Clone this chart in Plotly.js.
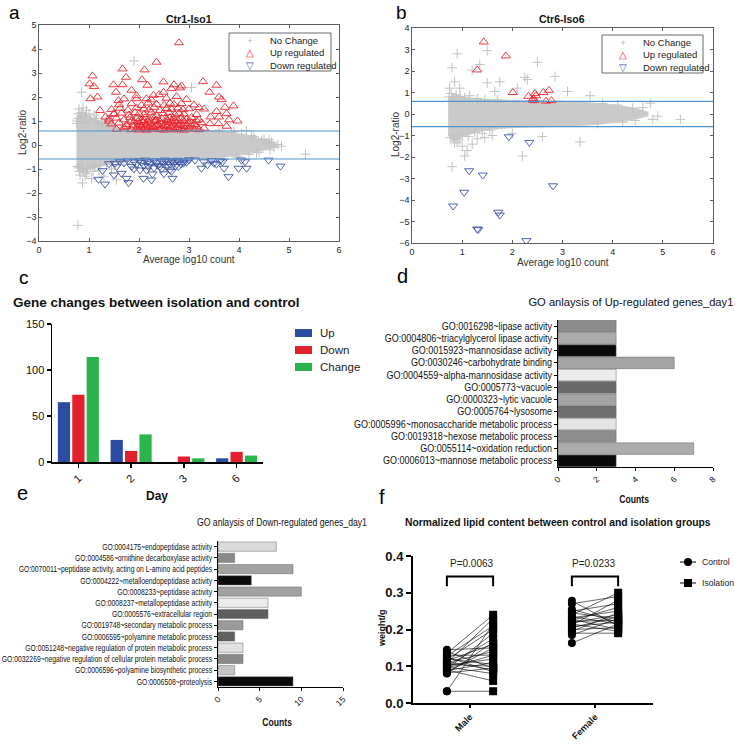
<!DOCTYPE html>
<html><head><meta charset="utf-8">
<script src="https://cdn.plot.ly/plotly-3.0.1.min.js"></script>
<style>html,body{margin:0;padding:0;background:#fff}#chart{width:735px;height:744px}</style>
</head><body><div id="chart"></div>
<script>
// ---------------- DATA ----------------
// Panel a: Ctr1-Iso1 MA plot
const cloudAX  = [0.75,0.80,0.90,1.00,1.20,1.40,1.60,1.80,2.00,2.50,3.00,3.50,3.80,4.00,4.20,4.40,4.60,4.75];
const cloudAUp = [0.90,1.25,1.30,1.20,1.00,0.85,0.72,0.66,0.64,0.62,0.62,0.58,0.52,0.45,0.36,0.27,0.18,0.06];
const cloudALo = [-0.80,-1.05,-1.10,-1.00,-0.90,-0.78,-0.70,-0.64,-0.62,-0.60,-0.58,-0.55,-0.48,-0.42,-0.34,-0.26,-0.16,-0.06];
const grayAX = [0.78,1.90,3.05,0.85,5.33,4.85,4.78,4.70,4.65,4.55,4.15,4.30,4.40,0.87,1.05,0.82,0.90,1.20,1.30,1.55,0.80,0.85,0.95,1.00,1.10,1.15,1.25,0.78,1.35,1.40,0.80,0.95,1.10,3.90,4.00,3.70,3.20,4.20,4.45,0.76,1.45,0.83,0.92,1.08,0.88,
  0.76,0.79,0.84,0.88,0.93,0.98,1.03,1.13,1.18,1.28,1.33,1.48,1.62,1.75,3.60,3.85,4.05,4.25,4.50,4.60,0.77,0.81,0.86,0.97,1.02,1.12,1.22,1.35,1.60,1.70,3.40,3.95,4.35,4.62];
const grayAY = [-3.35,3.50,2.40,2.20,-0.38,-0.05,0.02,-0.10,0.12,0.05,0.60,0.35,-0.30,-1.58,-1.40,-1.25,-1.15,-1.05,-1.30,-1.45,1.50,1.35,1.45,1.30,1.25,1.10,0.95,1.10,1.05,0.85,-0.95,-1.20,-0.85,0.55,-0.50,-0.60,0.65,-0.40,0.20,0.90,-1.00,1.20,-1.30,-1.10,1.55,
  1.00,1.30,1.10,0.95,1.20,0.90,1.05,1.00,0.85,0.90,0.78,0.75,0.70,0.68,0.62,0.52,0.45,0.40,0.25,0.22,-0.90,-1.10,-0.85,-1.00,-0.95,-0.90,-0.85,-0.80,-0.72,-0.68,-0.62,-0.50,-0.32,-0.20];
const upAX = [2.80,2.35,1.67,2.11,1.07,1.74,3.28,1.01,2.06,1.10,1.49,1.67,2.49,2.17,2.70,2.85,3.55,1.17,1.03,1.54,2.49,2.65,2.82,3.60,3.41,1.59,1.95,2.15,2.29,3.89,3.72,1.22,1.33,1.50,3.43,3.60,3.75,3.97,3.42,3.59,3.75,3.65,3.55,3.80,3.30,1.40,
  1.55,1.70,1.85,1.95,2.00,2.05,2.10,2.15,2.20,2.25,2.30,2.40,2.45,2.50,2.55,2.60,2.65,2.70,2.75,2.80,2.85,2.90,3.00,3.10,3.20,3.30,
  1.75,1.88,1.98,2.03,2.13,2.27,2.35,2.48,2.57,2.63,2.78,2.88,2.93,3.05,3.15,
  1.45,1.60,1.75,1.90,2.00,2.08,2.15,2.22,2.30,2.38,2.45,2.52,2.60,2.68,2.75,2.82,2.90,2.98,3.10,3.25,
  1.85,1.98,2.10,2.18,2.32,2.42,2.57,2.65,2.72,2.88,3.02,3.15,
  1.40,1.55,1.70,1.82,1.95,2.05,2.12,2.20,2.28,2.35,2.45,2.55,2.62,2.70,2.78,2.85,2.95,3.05,3.20,
  1.50,1.65,1.80,1.92,2.00,2.10,2.25,2.35,2.48,2.60,2.72,2.80,2.90,3.15,
  1.45,1.62,1.78,1.95,2.10,2.20,2.30,2.42,2.55,2.65,2.78,2.88,3.00,3.20,
  1.60,1.85,2.05,2.18,2.35,2.50,2.62,2.70,2.85,3.10,
  1.70,1.95,2.25,2.40,2.55,2.75,2.95,1.85];
const upAY = [4.26,3.45,3.17,3.13,2.88,2.82,2.64,2.55,2.72,2.44,2.51,2.51,2.63,2.49,2.51,2.46,2.49,2.00,1.93,2.20,2.20,2.35,2.38,2.00,2.20,1.85,1.93,1.93,2.07,1.63,1.57,1.44,1.17,1.31,1.17,1.17,1.31,1.00,0.89,0.89,0.78,1.90,1.40,1.05,1.50,1.00,
  0.66,0.72,0.64,0.70,0.63,0.74,0.67,0.62,0.71,0.65,0.73,0.64,0.69,0.62,0.75,0.66,0.70,0.63,0.72,0.65,0.68,0.62,0.71,0.66,0.64,0.70,
  0.78,0.80,0.76,0.82,0.79,0.77,0.81,0.78,0.80,0.76,0.82,0.79,0.77,0.80,0.78,
  0.88,0.92,0.85,0.95,0.87,0.93,0.84,0.90,0.96,0.86,0.91,0.83,0.94,0.88,0.92,0.85,0.97,0.89,0.86,0.93,
  1.00,0.98,1.02,0.99,1.01,0.97,1.03,1.00,0.98,1.02,0.99,1.01,
  1.08,1.12,1.05,1.15,1.10,1.03,1.13,1.07,1.16,1.04,1.11,1.06,1.14,1.09,1.02,1.12,1.08,1.15,1.05,
  1.28,1.33,1.25,1.35,1.30,1.27,1.36,1.24,1.31,1.34,1.26,1.32,1.29,1.27,
  1.48,1.53,1.45,1.55,1.50,1.46,1.57,1.44,1.52,1.49,1.54,1.47,1.51,1.56,
  1.68,1.72,1.65,1.75,1.70,1.66,1.74,1.69,1.73,1.67,
  1.92,2.05,1.88,2.10,1.95,2.02,1.90,2.28];
const downAX = [1.27,1.19,1.32,1.52,1.65,1.75,1.79,1.85,2.02,2.09,2.27,2.25,2.19,2.42,2.67,2.62,2.79,2.89,3.12,3.25,3.37,3.50,3.67,3.70,3.79,3.99,4.05,4.15,4.12,4.59,4.83,
  1.62,1.70,1.78,1.90,1.95,2.00,2.05,2.10,2.12,2.18,2.22,2.30,2.35,2.38,2.45,2.50,2.52,2.55,2.58,2.62,2.66,2.70,2.73,2.76,2.80,2.84,2.90,2.95,3.00,2.30,2.45,1.55,1.40,1.90,2.15,3.45,3.55,3.62,3.30,2.65,2.50,1.50];
const downAY = [-1.07,-1.43,-1.63,-0.76,-1.18,-1.39,-1.57,-0.90,-1.04,-1.39,-1.21,-1.46,-0.90,-0.90,-1.39,-1.04,-0.90,-0.76,-0.63,-0.97,-0.83,-0.76,-0.70,-0.97,-1.32,-0.97,-0.63,-0.97,-0.70,-0.63,-0.88,
  -0.68,-0.75,-0.66,-0.70,-0.80,-0.65,-0.72,-0.85,-0.63,-0.70,-0.78,-0.66,-0.74,-0.85,-0.68,-0.78,-0.63,-0.90,-0.70,-0.80,-0.66,-0.74,-0.88,-0.64,-0.70,-0.80,-0.66,-0.72,-0.62,-0.95,-1.00,-0.90,-0.78,-1.00,-1.05,-0.65,-0.80,-0.66,-0.70,-1.10,-1.20,-1.25];

// Panel b: Ctr6-Iso6 MA plot
const cloudBX  = [0.72,0.80,0.90,1.00,1.20,1.40,1.60,2.00,2.50,3.00,3.50,4.00,4.30,4.50,4.70];
const cloudBUp = [0.70,0.85,0.85,0.80,0.72,0.68,0.65,0.62,0.60,0.58,0.52,0.42,0.32,0.22,0.08];
const cloudBLo = [-0.90,-1.25,-1.20,-1.05,-0.90,-0.78,-0.70,-0.62,-0.60,-0.56,-0.50,-0.40,-0.30,-0.20,-0.08];
const grayBX = [0.90,0.80,1.50,1.35,1.20,0.85,0.95,1.50,1.75,2.25,2.10,2.50,2.85,3.10,3.55,4.75,4.90,5.35,4.80,3.35,2.60,2.20,1.05,0.80,1.10,1.45,1.20,0.75,0.85,0.95,1.00,1.30,1.60,2.00,4.60,4.45,2.30,1.65,
  0.74,0.78,0.83,0.88,0.96,1.05,1.15,1.30,1.45,1.70,3.80,4.10,4.40,0.76,0.82,0.90,1.00,1.12,1.25,1.40,1.55,3.70,4.20];
const grayBY = [2.80,2.15,2.95,2.30,2.05,1.50,1.20,1.45,1.50,1.70,1.20,2.40,1.75,1.05,0.85,0.50,-0.10,-0.25,-0.25,-1.30,-1.05,-1.95,-1.95,-2.45,-1.70,-1.10,-1.40,1.20,-1.35,-1.20,-1.50,-1.15,-1.00,-0.90,0.30,-0.30,1.60,1.05,
  0.80,0.95,0.70,0.90,0.82,0.75,0.85,0.72,0.68,0.66,0.48,0.42,0.28,-1.10,-1.00,-1.30,-0.95,-1.05,-0.85,-0.90,-0.75,-0.45,-0.38];
const upBX = [1.43,1.87,1.30,2.01,2.32,2.45,2.42,2.40,2.47,2.62,2.73,2.67,2.78,2.44];
const upBY = [3.35,2.70,2.05,1.00,0.82,0.95,0.72,0.65,0.85,1.00,1.10,0.60,0.62,0.62];
const downBX = [1.93,2.34,1.14,1.41,2.81,1.04,0.82,1.72,1.75,1.30,1.32,2.28];
const downBY = [-1.06,-1.32,-2.64,-2.84,-3.34,-3.64,-4.28,-4.57,-4.70,-5.35,-5.38,-5.89];
const thresholdLevels = [0.585, -0.585];
const maLegend = ['No Change','Up regulated','Down regulated'];

// Panel c: gene changes per day
const days = ['1','2','3','6'];
const upCounts = [65,24,0,4];
const downCounts = [73,12,6,11];
const changeCounts = [114,30,4,7];
const changeSeries = ['Up','Down','Change'];

// Panel d: GO up-regulated
const upTerms = ['GO:0016298~lipase activity','GO:0004806~triacylglycerol lipase activity','GO:0015923~mannosidase activity','GO:0030246~carbohydrate binding','GO:0004559~alpha-mannosidase activity','GO:0005773~vacuole','GO:0000323~lytic vacuole','GO:0005764~lysosome','GO:0005996~monosaccharide metabolic process','GO:0019318~hexose metabolic process','GO:0055114~oxidation reduction','GO:0006013~mannose metabolic process'];
const upTermCounts = [3,3,3,6,3,3,3,3,3,3,7,3];

// Panel e: GO down-regulated
const downTerms = ['GO:0004175~endopeptidase activity','GO:0004586~ornithine decarboxylase activity','GO:0070011~peptidase activity, acting on L-amino acid peptides','GO:0004222~metalloendopeptidase activity','GO:0008233~peptidase activity','GO:0008237~metallopeptidase activity','GO:0005576~extracellular region','GO:0019748~secondary metabolic process','GO:0006595~polyamine metabolic process','GO:0051248~negative regulation of protein metabolic process','GO:0032269~negative regulation of cellular protein metabolic process','GO:0006596~polyamine biosynthetic process','GO:0006508~proteolysis'];
const downTermCounts = [7,2,9,4,10,6,6,3,2,3,3,2,9];

// Panel f: lipid content (paired control / isolation)
const sexes = ['Male','Female'];
const maleControl   = [0.145,0.140,0.135,0.130,0.128,0.125,0.120,0.118,0.115,0.112,0.110,0.108,0.105,0.102,0.100,0.098,0.095,0.092,0.090,0.088,0.085,0.082,0.080,0.032,0.032];
const maleIsolation = [0.150,0.095,0.240,0.130,0.210,0.085,0.105,0.200,0.160,0.090,0.140,0.230,0.100,0.120,0.175,0.080,0.130,0.190,0.060,0.110,0.150,0.095,0.165,0.032,0.215];
const femaleControl   = [0.278,0.270,0.255,0.250,0.245,0.240,0.235,0.232,0.228,0.225,0.222,0.218,0.215,0.212,0.208,0.205,0.200,0.195,0.190,0.185,0.163];
const femaleIsolation = [0.210,0.290,0.220,0.270,0.230,0.300,0.215,0.250,0.200,0.260,0.225,0.240,0.195,0.280,0.220,0.235,0.205,0.245,0.190,0.230,0.215];
const pValues = ['P=0.0063','P=0.0233'];
const groupNames = ['Control','Isolation'];

// ---------------- STYLE ----------------
const W = 735, H = 744;
const MAT = 'Liberation Sans, Arial, sans-serif';
const dX = (a,b) => [a/W, b/W];
const dY = (top,bottom) => [1-bottom/H, 1-top/H];
const upShades = ['#8c8c8c','#acacac','#0a0a0a','#a4a4a4','#ececec','#6a6a6a','#a4a4a4','#6e6e6e','#e4e4e4','#8e8e8e','#acacac','#0a0a0a'];
const downShades = ['#dadada','#8a8a8a','#a2a2a2','#0a0a0a','#a2a2a2','#ececec','#5e5e5e','#9a9a9a','#606060','#e2e2e2','#8a8a8a','#c4c4c4','#0a0a0a'];
const GRAY='#c2c2c2', RED='#e8262e', BLUE='#3b53a5', TH='#4f93cf';
const barColors = ['#2c4ca2','#e3202b','#2cb44c'];

const traces = [];
const thresholdShapes = [];
function maPanel(xa, ya, cx, cu, cl, gx, gy, ux, uy, dx_, dy_) {
  traces.push({type:'scatter', mode:'lines', xaxis:xa, yaxis:ya, x: cx.concat(cx.slice().reverse()), y: cu.concat(cl.slice().reverse()), fill:'toself', fillcolor:'#cacaca', line:{width:1.5,color:'#cdcdcd'}, hoverinfo:'skip'});
  traces.push({type:'scatter', mode:'markers', xaxis:xa, yaxis:ya, x:gx, y:gy, marker:{symbol:'cross-thin-open', size:7, color:GRAY, line:{color:GRAY, width:1}}});
  thresholdLevels.forEach(t => thresholdShapes.push({type:'line', xref:xa+' domain', x0:0, x1:1, yref:ya, y0:t, y1:t, line:{color:TH, width:1.1}, layer:'above'}));
  traces.push({type:'scatter', mode:'markers', xaxis:xa, yaxis:ya, x:ux, y:uy, marker:{symbol:'triangle-up-open', size:8, color:RED, line:{color:RED, width:0.9}}});
  traces.push({type:'scatter', mode:'markers', xaxis:xa, yaxis:ya, x:dx_, y:dy_, marker:{symbol:'triangle-down-open', size:8, color:BLUE, line:{color:BLUE, width:0.9}}});
}
maPanel('x','y', cloudAX, cloudAUp, cloudALo, grayAX, grayAY, upAX, upAY, downAX, downAY);
maPanel('x2','y2', cloudBX, cloudBUp, cloudBLo, grayBX, grayBY, upBX, upBY, downBX, downBY);

// panel c
[upCounts, downCounts, changeCounts].forEach((vals, i) => {
  traces.push({type:'bar', xaxis:'x3', yaxis:'y3', x:days, y:vals, name:changeSeries[i], marker:{color:barColors[i]}});
});
// panel d
traces.push({type:'bar', orientation:'h', xaxis:'x4', yaxis:'y4', x:upTermCounts, y:upTerms, width:0.94, marker:{color:upShades, line:{color:'#666', width:0.5}}});
// panel e
traces.push({type:'bar', orientation:'h', xaxis:'x5', yaxis:'y5', x:downTermCounts, y:downTerms, width:0.82, marker:{color:downShades, line:{color:'#666', width:0.5}}});

// panel f
const OFF = 0.185;
function pairs(ctrl, iso, center) {
  const xs=[], ys=[];
  ctrl.forEach((c,i) => { xs.push(center-OFF, center+OFF, null); ys.push(c, iso[i], null); });
  traces.push({type:'scatter', mode:'lines', xaxis:'x6', yaxis:'y6', x:xs, y:ys, line:{color:'#000', width:0.6}});
  traces.push({type:'scatter', mode:'markers', xaxis:'x6', yaxis:'y6', x:ctrl.map(()=>center-OFF), y:ctrl, marker:{symbol:'circle', size:8, color:'#000'}});
  traces.push({type:'scatter', mode:'markers', xaxis:'x6', yaxis:'y6', x:iso.map(()=>center+OFF), y:iso, marker:{symbol:'square', size:8, color:'#000'}});
}
pairs(maleControl, maleIsolation, 0);
pairs(femaleControl, femaleIsolation, 1);

// ---------------- LAYOUT ----------------
function matAxis(o) {
  return Object.assign({showline:true, mirror:'ticks', linecolor:'#333', linewidth:0.8, ticks:'inside', ticklen:3, tickwidth:0.8, tickcolor:'#333', showgrid:false, zeroline:false, tickfont:{family:MAT, size:9, color:'#262626'}, fixedrange:true}, o);
}
function gpAxis(o) {
  return Object.assign({showline:true, linecolor:'#000', linewidth:1.2, ticks:'outside', ticklen:4, tickwidth:1.2, tickcolor:'#000', showgrid:false, zeroline:false, fixedrange:true}, o);
}
function A(text, x, y, o) {
  return Object.assign({text:text, x:x/W, y:1-y/H, xref:'paper', yref:'paper', showarrow:false, xanchor:'center', yanchor:'middle', font:{family:MAT, size:10, color:'#222'}}, o||{});
}
const F = (size, color) => ({family: MAT, size:size, color: color||'#222'});
const symText = '<span style="color:#b4b4b4">+</span><br><span style="color:'+RED+'">\u25B3</span><br><span style="color:'+BLUE+'">\u25BD</span>';

const annotations = [
  A('a', 7, 13, {xanchor:'left', font:F(19,'#000')}),
  A('b', 394, 13, {xanchor:'left', font:F(19,'#000')}),
  A('c', 17, 277, {xanchor:'left', font:F(19,'#000')}),
  A('d', 395, 276, {xanchor:'left', font:F(20,'#000')}),
  A('e', 15, 493, {xanchor:'left', font:F(20,'#000')}),
  A('f', 377, 497, {xanchor:'left', font:F(20,'#000')}),
  A('<b>Ctr1-Iso1</b>', 189, 19, {font:F(10.5,'#111')}),
  A('<b>Ctr6-Iso6</b>', 562, 19, {font:F(10.5,'#111')}),
  A('Average log10 count', 189, 259, {font:F(10,'#333')}),
  A('Log2-ratio', 23, 133, {textangle:-90, font:F(10,'#333')}),
  A('Average log10 count', 563, 262, {font:F(10,'#333')}),
  A('Log2-ratio', 396, 135, {textangle:-90, font:F(10,'#333')}),
  // legend a
  A(symText, 250, 53, {font:F(9.5,'#222')}),
  A(maLegend.join('<br>'), 268, 53, {xanchor:'left', align:'left', font:F(9.5,'#222')}),
  // legend b
  A(symText, 623, 55, {font:F(9.5,'#222')}),
  A(maLegend.join('<br>'), 641, 55, {xanchor:'left', align:'left', font:F(9.5,'#222')}),
  // panel c
  A('<b>Gene changes between isolation and control</b>', 11, 302, {xanchor:'left', font:F(13.5,'#111')}),
  A(changeSeries[0], 318, 333, {xanchor:'left', font:F(11.5,'#222')}),
  A(changeSeries[1], 318, 350, {xanchor:'left', font:F(11.5,'#222')}),
  A(changeSeries[2], 318, 367, {xanchor:'left', font:F(11.5,'#222')}),
  A('<b>Day</b>', 157, 496, {font:F(12,'#111')}),
  // panel d/e (narrow texts, squeezed after render)
  A('GO anlaysis of Up-regulated genes_day1', 631, 302, {font:F(11,'#111')}),
  A('<b>Counts</b>', 634, 499, {font:F(10.5,'#111')}),
  A('GO anlaysis of Down-regulated genes_day1', 282, 522, {font:F(11,'#111')}),
  A('<b>Counts</b>', 277, 722, {font:F(10.5,'#111')}),
  // panel f
  A('<b>Normalized lipid content between control and isolation groups</b>', 558, 522, {font:F(10.3,'#111')}),
  A('<b>weight/g</b>', 382, 628, {textangle:-90, font:F(9,'#111')}),
  A(pValues[0], 472, 563, {font:F(10,'#222')}),
  A(pValues[1], 594, 563, {font:F(10,'#222')}),
  A(groupNames[0], 700, 562, {xanchor:'left', font:F(8.6,'#222')}),
  A(groupNames[1], 700, 583, {xanchor:'left', font:F(8.6,'#222')})
];

const P = (x0,y0,x1,y1) => ({x0:x0/W, x1:x1/W, y0:1-y0/H, y1:1-y1/H, xref:'paper', yref:'paper'});
const shapes = thresholdShapes.concat([
  Object.assign({type:'rect', line:{color:'#444', width:0.8}, fillcolor:'rgba(255,255,255,1)', layer:'above'}, P(229,33,331,71)),
  Object.assign({type:'rect', line:{color:'#444', width:0.8}, fillcolor:'rgba(255,255,255,1)', layer:'above'}, P(602,35,703,73)),
  Object.assign({type:'rect', line:{width:0}, fillcolor:barColors[0]}, P(295,329,312,337)),
  Object.assign({type:'rect', line:{width:0}, fillcolor:barColors[1]}, P(295,346,312,354)),
  Object.assign({type:'rect', line:{width:0}, fillcolor:barColors[2]}, P(295,363,312,371)),
  // brackets f
  {type:'path', xref:'x6', yref:'y6', path:'M -0.185,0.318 L -0.185,0.344 L 0.185,0.344 L 0.185,0.318', line:{color:'#000', width:2}},
  {type:'path', xref:'x6', yref:'y6', path:'M 0.815,0.318 L 0.815,0.344 L 1.185,0.344 L 1.185,0.318', line:{color:'#000', width:2}},
  // legend f
  Object.assign({type:'line', line:{color:'#000', width:1}}, P(680,562,696,562)),
  Object.assign({type:'circle', line:{width:0}, fillcolor:'#000'}, P(684,558,692,566)),
  Object.assign({type:'line', line:{color:'#000', width:1}}, P(680,583,696,583)),
  Object.assign({type:'rect', line:{width:0}, fillcolor:'#000'}, P(684,579,692,587))
]);

const layout = {
  width: W, height: H, margin:{l:0,r:0,t:0,b:0}, paper_bgcolor:'#fff', plot_bgcolor:'rgba(0,0,0,0)',
  showlegend:false, barmode:'group', bargap:0.18, bargroupgap:0.15,
  font:{family:MAT, color:'#222'},
  xaxis: matAxis({domain:dX(39,339), range:[0,6], dtick:1, anchor:'y'}),
  yaxis: matAxis({domain:dY(25,241), range:[-4,5], dtick:1, anchor:'x'}),
  xaxis2: matAxis({domain:dX(412,713), range:[0,6], dtick:1, anchor:'y2'}),
  yaxis2: matAxis({domain:dY(28,243), range:[-6,4], dtick:1, anchor:'x2'}),
  xaxis3: gpAxis({domain:dX(52,263), type:'category', anchor:'y3', tickangle:-45, tickfont:F(11,'#111'), linewidth:1.5, tickwidth:1.5}),
  yaxis3: gpAxis({domain:dY(324,462), range:[0,150], tickvals:[0,50,100,150], anchor:'x3', tickfont:F(11,'#111'), linewidth:1.5, tickwidth:1.5}),
  xaxis4: gpAxis({domain:dX(558,713), range:[0,8], dtick:2, anchor:'y4', tickangle:-45, ticklen:3, tickwidth:1, linewidth:1, tickfont:F(8.5,'#111')}),
  yaxis4: gpAxis({domain:dY(320,467), type:'category', autorange:'reversed', anchor:'x4', ticklen:3, tickwidth:1, linewidth:1, tickfont:F(10,'#111')}),
  xaxis5: gpAxis({domain:dX(218,343), range:[0,15], dtick:5, anchor:'y5', tickangle:-45, ticklen:3, tickwidth:1, linewidth:1, tickfont:F(8.5,'#111')}),
  yaxis5: gpAxis({domain:dY(541,687), type:'category', autorange:'reversed', anchor:'x5', ticklen:3, tickwidth:1, linewidth:1, tickfont:F(9.3,'#111')}),
  xaxis6: gpAxis({domain:dX(413,653), range:[-0.456,1.464], tickvals:[0,1], ticktext:sexes, anchor:'y6', tickangle:-45, linewidth:2, tickwidth:2, ticklen:3, tickfont:{family:MAT, size:9.2, color:'#111', weight:'bold'}}),
  yaxis6: gpAxis({domain:dY(556,703), range:[0,0.4], dtick:0.1, tickformat:'.1f', anchor:'x6', linewidth:2, tickwidth:2, ticklen:5, tickfont:{family:MAT, size:13, color:'#111', weight:'bold'}}),
  annotations: annotations,
  shapes: shapes
};

// Condense text horizontally (the reference uses a narrow typeface)
function squeezeEl(t, factor, target) {
  const L = t.getComputedTextLength();
  if (!L) return;
  const len = target ? target : L*factor;
  t.setAttribute('textLength', len.toFixed(1));
  t.setAttribute('lengthAdjust', 'spacingAndGlyphs');
}
Plotly.newPlot('chart', traces, layout, {displayModeBar:false, staticPlot:true}).then(gd => {
  gd.querySelectorAll('.y4tick text').forEach(t => squeezeEl(t, 0.90));
  gd.querySelectorAll('.y5tick text').forEach(t => squeezeEl(t, 0.73));
  gd.querySelectorAll('text.annotation-text').forEach(t => {
    const s = t.textContent;
    if (s === 'GO anlaysis of Up-regulated genes_day1') squeezeEl(t, 0, 205);
    else if (s === 'GO anlaysis of Down-regulated genes_day1') squeezeEl(t, 0, 170);
    else if (s === 'Counts') squeezeEl(t, 0.82);
  });
});
</script></body></html>
